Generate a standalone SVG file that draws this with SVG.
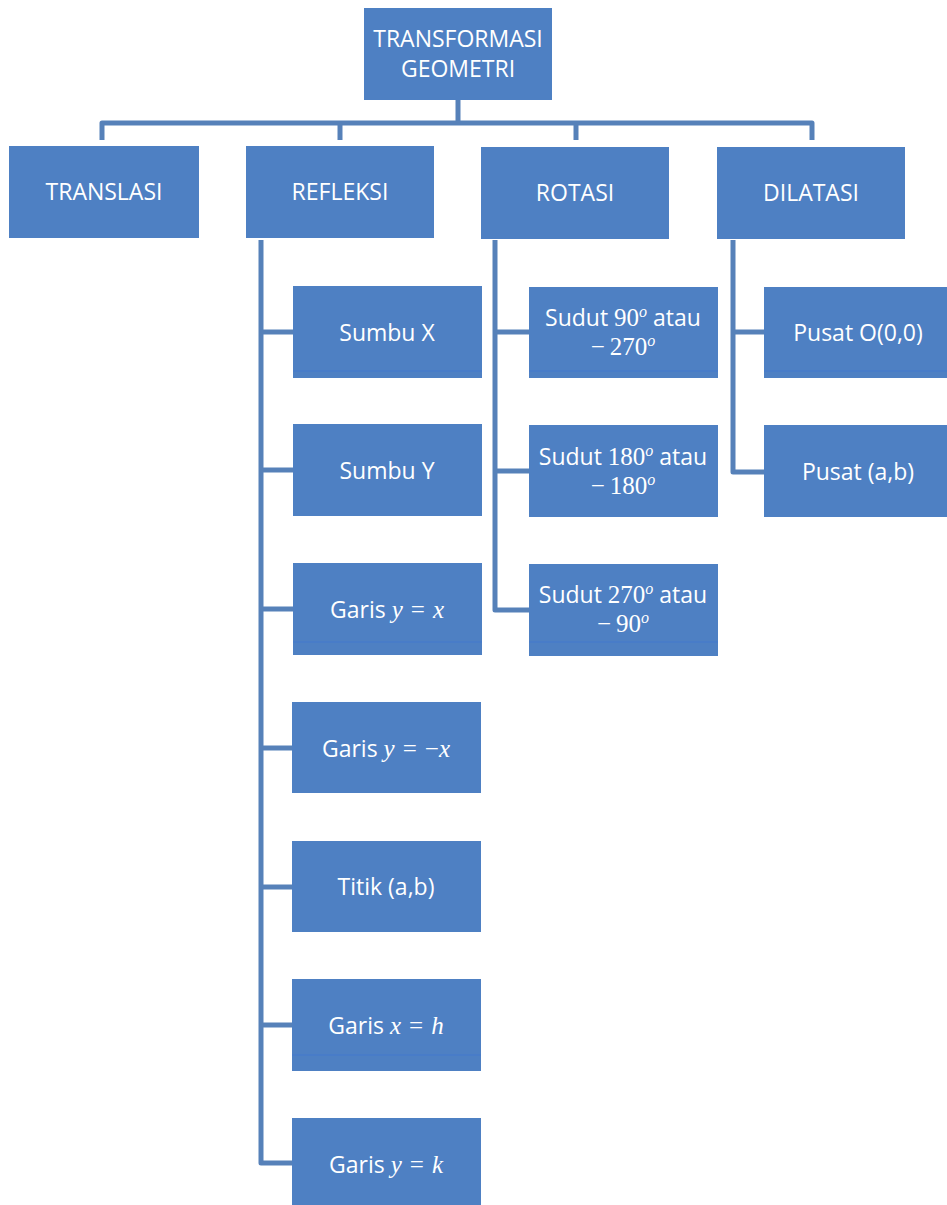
<svg xmlns="http://www.w3.org/2000/svg" width="947" height="1205" viewBox="0 0 947 1205">
<style>
.box{fill:#4e80c3}
.t{font-family:"Open Sans","Liberation Sans",sans-serif;font-size:23px;fill:#ffffff;text-anchor:middle}
.m{font-family:"Liberation Serif",serif;font-size:25px}
.i{font-style:italic}
.s{font-family:"Liberation Serif",serif;font-size:16px;font-style:italic}
.c{fill:none;stroke:#5681b9;stroke-width:5;stroke-linecap:butt;stroke-linejoin:round}
.art{stroke:#3a74d8;stroke-width:1.2;opacity:0.5}
</style>
<rect width="947" height="1205" fill="#ffffff"/>
<g id="connectors">
<path class="c" d="M458 100 V123"/>
<path class="c" d="M102 140 V123 H812 V140"/>
<path class="c" d="M340 123 V140"/>
<path class="c" d="M576 123 V140"/>
<path class="c" d="M261 240 V1163 H293"/>
<path class="c" d="M261 332 H293 M261 470 H293 M261 609 H293 M261 748 H293 M261 887 H293 M261 1025 H293"/>
<path class="c" d="M495 240 V610 H529"/>
<path class="c" d="M495 332 H529 M495 471 H529"/>
<path class="c" d="M733 240 V472 H764"/>
<path class="c" d="M733 332 H764"/>
</g>
<g id="n-root"><rect class="box" x="364" y="8" width="188" height="92"/><text class="t" x="458" y="47">TRANSFORMASI</text><text class="t" x="458" y="77">GEOMETRI</text></g>
<g id="n-translasi"><rect class="box" x="9" y="146" width="190" height="92"/><text class="t" x="104" y="200">TRANSLASI</text></g>
<g id="n-refleksi"><rect class="box" x="246" y="146" width="188" height="92"/><text class="t" x="340" y="200">REFLEKSI</text></g>
<g id="n-rotasi"><rect class="box" x="481" y="147" width="188" height="92"/><text class="t" x="575" y="201">ROTASI</text></g>
<g id="n-dilatasi"><rect class="box" x="717" y="147" width="188" height="92"/><text class="t" x="811" y="201">DILATASI</text></g>

<g id="n-sumbux"><rect class="box" x="293" y="286" width="189" height="92"/><line class="art" x1="293" y1="371" x2="482" y2="371"/><text class="t" x="387" y="341">Sumbu X</text></g>
<g id="n-sumbuy"><rect class="box" x="293" y="424" width="189" height="92"/><text class="t" x="387" y="479">Sumbu Y</text></g>
<g id="n-garisyx"><rect class="box" x="293" y="563" width="189" height="92"/><line class="art" x1="293" y1="642" x2="482" y2="642"/><text class="t" x="387" y="618">Garis <tspan class="m i">y</tspan><tspan class="m" dx="8">=</tspan><tspan class="m i" dx="8">x</tspan></text></g>
<g id="n-garisymx"><rect class="box" x="292" y="702" width="189" height="91"/><text class="t" x="386" y="757">Garis <tspan class="m i">y</tspan><tspan class="m" dx="8">=</tspan><tspan class="m" dx="8">−</tspan><tspan class="m i">x</tspan></text></g>
<g id="n-titik"><rect class="box" x="292" y="841" width="189" height="91"/><text class="t" x="386" y="895">Titik (a,b)</text></g>
<g id="n-garisxh"><rect class="box" x="292" y="979" width="189" height="92"/><line class="art" x1="292" y1="1055" x2="481" y2="1055"/><text class="t" x="386" y="1034">Garis <tspan class="m i">x</tspan><tspan class="m" dx="8">=</tspan><tspan class="m i" dx="8">h</tspan></text></g>
<g id="n-garisyk"><rect class="box" x="292" y="1118" width="189" height="92"/><text class="t" x="386" y="1173">Garis <tspan class="m i">y</tspan><tspan class="m" dx="8">=</tspan><tspan class="m i" dx="8">k</tspan></text></g>

<g id="n-sudut90"><rect class="box" x="529" y="287" width="189" height="91"/><line class="art" x1="529" y1="371" x2="718" y2="371"/><text class="t" x="623" y="326">Sudut <tspan class="m">90</tspan><tspan class="s" dy="-9">o</tspan><tspan dy="9"> atau</tspan></text><text class="t" x="623" y="355"><tspan class="m">−</tspan><tspan class="m" dx="5">270</tspan><tspan class="s" dy="-9">o</tspan></text></g>
<g id="n-sudut180"><rect class="box" x="529" y="425" width="189" height="92"/><text class="t" x="623" y="465">Sudut <tspan class="m">180</tspan><tspan class="s" dy="-9">o</tspan><tspan dy="9"> atau</tspan></text><text class="t" x="623" y="494"><tspan class="m">−</tspan><tspan class="m" dx="5">180</tspan><tspan class="s" dy="-9">o</tspan></text></g>
<g id="n-sudut270"><rect class="box" x="529" y="564" width="189" height="92"/><line class="art" x1="529" y1="642" x2="718" y2="642"/><text class="t" x="623" y="603">Sudut <tspan class="m">270</tspan><tspan class="s" dy="-9">o</tspan><tspan dy="9"> atau</tspan></text><text class="t" x="623" y="632"><tspan class="m">−</tspan><tspan class="m" dx="5">90</tspan><tspan class="s" dy="-9">o</tspan></text></g>

<g id="n-pusat00"><rect class="box" x="764" y="287" width="188" height="91"/><line class="art" x1="764" y1="371" x2="947" y2="371"/><text class="t" x="858" y="341">Pusat O(0,0)</text></g>
<g id="n-pusatab"><rect class="box" x="764" y="425" width="188" height="92"/><text class="t" x="858" y="480">Pusat (a,b)</text></g>
</svg>
